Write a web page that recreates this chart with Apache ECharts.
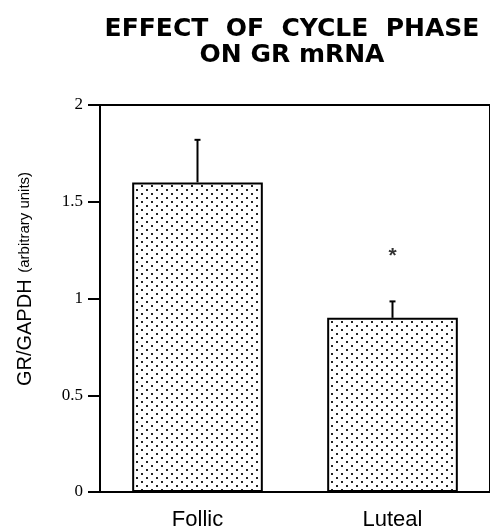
<!DOCTYPE html>
<html>
<head>
<meta charset="utf-8">
<script src="https://cdn.jsdelivr.net/npm/echarts@6/dist/echarts.min.js"></script>
<style>html,body{margin:0;padding:0;background:#fff;}#chart{width:490px;height:531px;}</style>
</head>
<body>
<div id="chart"></div>
<script>
const categories = ['Follic', 'Luteal'];
const means = [1.6, 0.9];
const errors = [0.22, 0.085];
const yTicks = [0, 0.5, 1, 1.5, 2];
const significance = [{ category: 'Luteal', value: 1.22, mark: '*' }];

function dotPattern() {
  const c = document.createElement('canvas');
  c.width = 10; c.height = 8;
  const ctx = c.getContext('2d');
  ctx.fillStyle = '#fff';
  ctx.fillRect(0, 0, 10, 8);
  ctx.fillStyle = '#222';
  ctx.fillRect(1, 1, 2, 2);
  ctx.fillRect(6, 5, 2, 2);
  return c;
}

const chart = echarts.init(document.getElementById('chart'), null, { renderer: 'canvas' });
const errData = categories.map((c, i) => [i, means[i], errors[i]]);

chart.setOption({
  animation: false,
  backgroundColor: '#fff',
  title: {
    text: 'EFFECT  OF  CYCLE  PHASE\nON GR mRNA',
    left: 287,
    top: 11,
    textAlign: 'center',
    textStyle: { fontFamily: 'DejaVu Sans', fontWeight: 'bold', fontSize: 25, lineHeight: 26, color: '#000' }
  },
  grid: { left: 100, top: 105, width: 394, height: 388, show: true, borderColor: '#000', borderWidth: 2, backgroundColor: 'transparent' },
  xAxis: {
    type: 'category',
    data: categories,
    axisLine: { lineStyle: { color: '#000', width: 2 } },
    axisTick: { show: false },
    axisLabel: { color: '#000', fontFamily: 'Liberation Sans', fontSize: 22, margin: 17 }
  },
  yAxis: {
    type: 'value',
    min: yTicks[0],
    max: yTicks[yTicks.length - 1],
    interval: 0.5,
    axisLine: { show: true, lineStyle: { color: '#000', width: 2 } },
    axisTick: { show: true, inside: false, length: 12, lineStyle: { color: '#000', width: 2 } },
    splitLine: { show: false },
    axisLabel: { color: '#000', fontFamily: 'Liberation Serif', fontSize: 17, margin: 17 }
  },
  graphic: [{
    type: 'text',
    x: 35,
    y: 279,
    rotation: Math.PI / 2,
    style: {
      text: '{a|GR/GAPDH}  {b|(arbitrary units)}',
      align: 'center',
      verticalAlign: 'bottom',
      fill: '#000',
      rich: {
        a: { fontFamily: 'Liberation Sans', fontSize: 20, fill: '#000' },
        b: { fontFamily: 'Liberation Sans', fontSize: 15, fill: '#000' }
      }
    }
  }],
  series: [
    {
      type: 'bar',
      data: means,
      barWidth: '67%',
      itemStyle: { color: { image: dotPattern(), repeat: 'repeat' }, borderColor: '#000', borderWidth: 2 }
    },
    {
      type: 'custom',
      data: errData,
      renderItem: function (params, api) {
        const base = api.coord([api.value(0), api.value(1)]);
        const top = api.coord([api.value(0), api.value(1) + api.value(2)]);
        return {
          type: 'group',
          children: [
            { type: 'line', shape: { x1: base[0], y1: base[1], x2: base[0], y2: top[1] }, style: { stroke: '#000', lineWidth: 2 } },
            { type: 'line', shape: { x1: base[0] - 3, y1: top[1], x2: base[0] + 3, y2: top[1] }, style: { stroke: '#000', lineWidth: 2 } }
          ]
        };
      },
      z: 5
    },
    {
      type: 'scatter',
      symbolSize: 0,
      data: significance.map(s => [categories.indexOf(s.category), s.value]),
      label: { show: true, position: 'inside', formatter: () => significance[0].mark, fontFamily: 'Liberation Sans', fontWeight: 'bold', fontSize: 21, color: '#000' }
    }
  ]
});
</script>
</body>
</html>
